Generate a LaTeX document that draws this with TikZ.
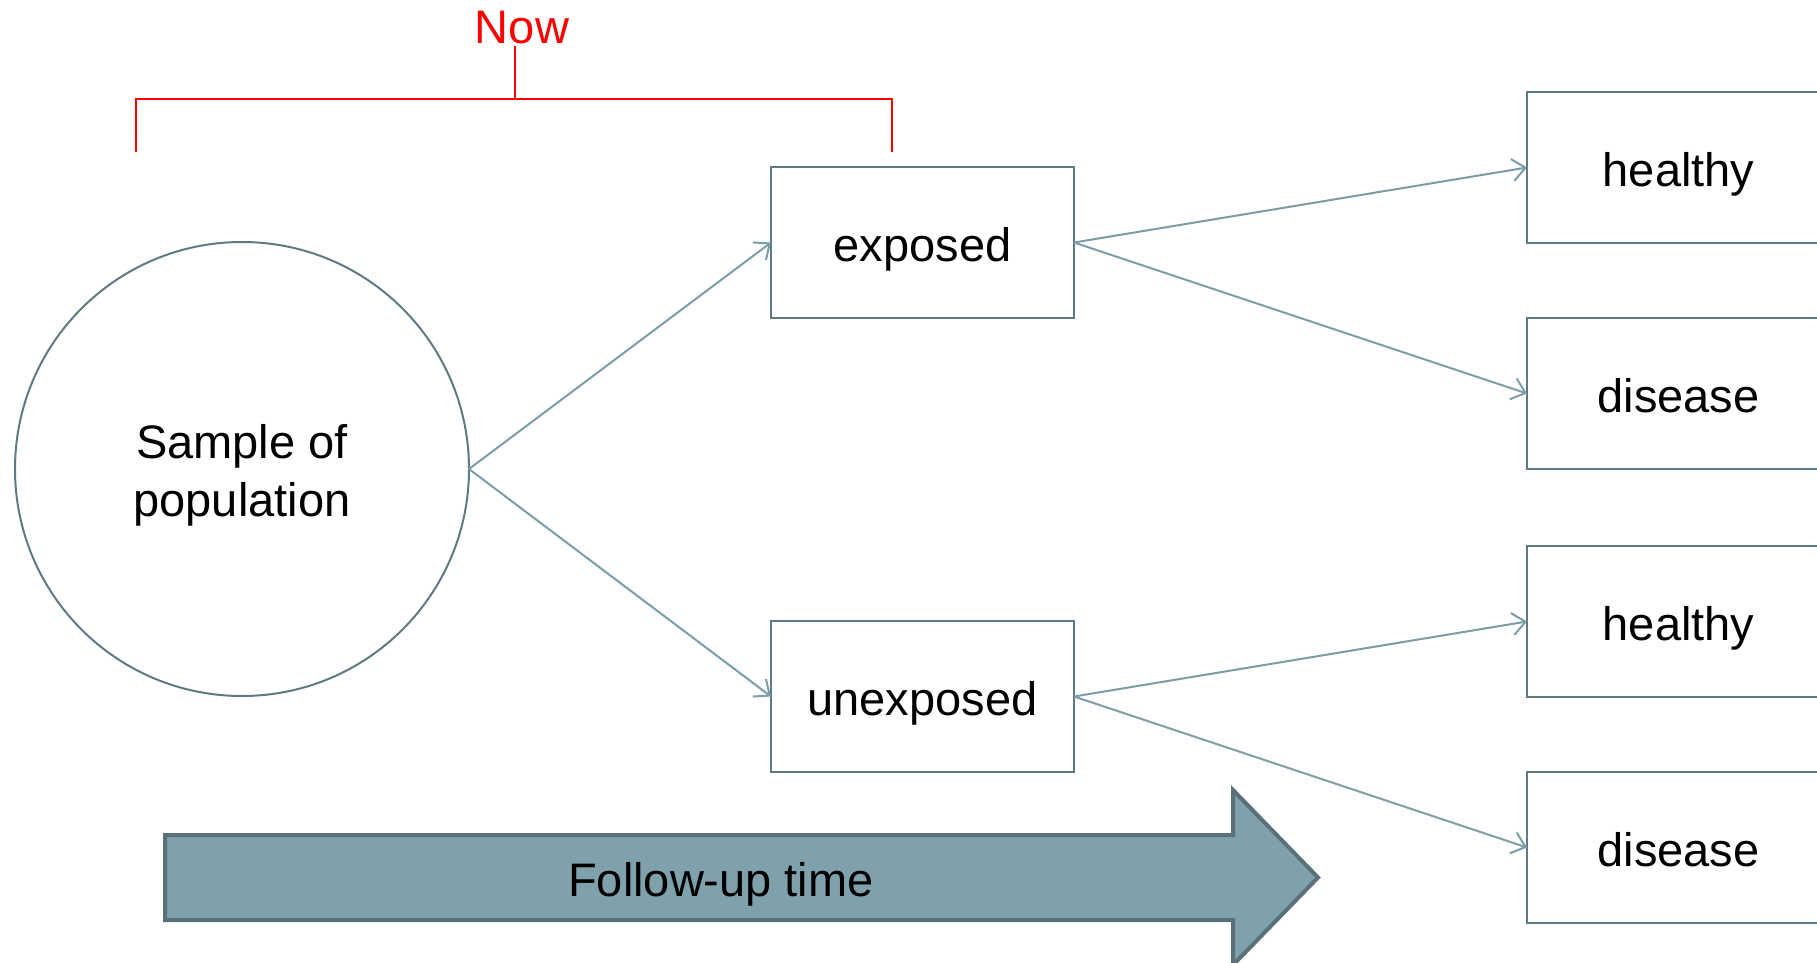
\documentclass[tikz,border=0pt]{standalone}
\usepackage{fontspec}
\setmainfont{Liberation Sans}
\usetikzlibrary{arrows.meta}
\definecolor{boxline}{HTML}{5F7A83}
\definecolor{linkline}{HTML}{7B9DA8}
\definecolor{timefill}{HTML}{7FA1AB}
\definecolor{timeline}{HTML}{5A7179}
\definecolor{nowred}{HTML}{FF0000}
\begin{document}
\begin{tikzpicture}[x=1pt,y=-1pt,
  txt/.style={font=\fontsize{47}{58}\selectfont, text=black},
  stagebox/.style={txt, draw=boxline, line width=2pt, minimum width=303pt,
    minimum height=151pt, inner sep=0pt, outer sep=0pt,
    text height=40pt, text depth=2pt},
  sample/.style={draw=boxline, line width=2pt, circle, minimum size=454pt,
    inner sep=0pt, outer sep=0pt},
  link/.style={draw=linkline, line width=2pt,
    -{Straight Barb[length=13pt,width=22pt,line width=2pt]}},
  bracket/.style={draw=nowred, line width=2pt}]
\useasboundingbox (0,0) rectangle (1817,962);
\clip (0,0) rectangle (1817,962);

% population sample and exposure groups
\node[sample] (pop) at (242,469) {};
\node[txt, align=center] (poptext) at ([yshift=-6pt]pop.center) {Sample of\\population};
\node[stagebox] (exp) at (922.5,242.5) {exposed};
\node[stagebox] (unexp) at (922.5,696.5) {unexposed};

% outcomes
\node[stagebox] (h1) at (1678.5,167.5) {healthy};
\node[stagebox] (d1) at (1678.5,393.5) {disease};
\node[stagebox] (h2) at (1678.5,621.5) {healthy};
\node[stagebox] (d2) at (1678.5,847.5) {disease};

\draw[link] (pop.east) -- (exp.west);
\draw[link] (pop.east) -- (unexp.west);
\draw[link] (exp.east) -- (h1.west);
\draw[link] (exp.east) -- (d1.west);
\draw[link] (unexp.east) -- (h2.west);
\draw[link] (unexp.east) -- (d2.west);

% "Now" bracket over the sample and exposure stage
\node[txt, text=nowred, anchor=base, inner sep=0pt] (now) at (522,43) {Now};
\coordinate (bl) at (136,152);
\coordinate (br) at (892,152);
\coordinate (stem) at (515,99);
\draw[bracket] (bl) -- (bl |- stem) -- (br |- stem) -- (br);
\draw[bracket] (stem) -- ++(0,-53);

% follow-up time arrow
\draw[fill=timefill, draw=timeline, line width=4pt, line join=miter]
  (165,835) -- (1233,835) -- (1233,790) -- (1318,877.5) -- (1233,965)
  -- (1233,920) -- (165,920) -- cycle;
\node[txt] (follow) at (721,884.5) {Follow-up time};
\end{tikzpicture}
\end{document}
